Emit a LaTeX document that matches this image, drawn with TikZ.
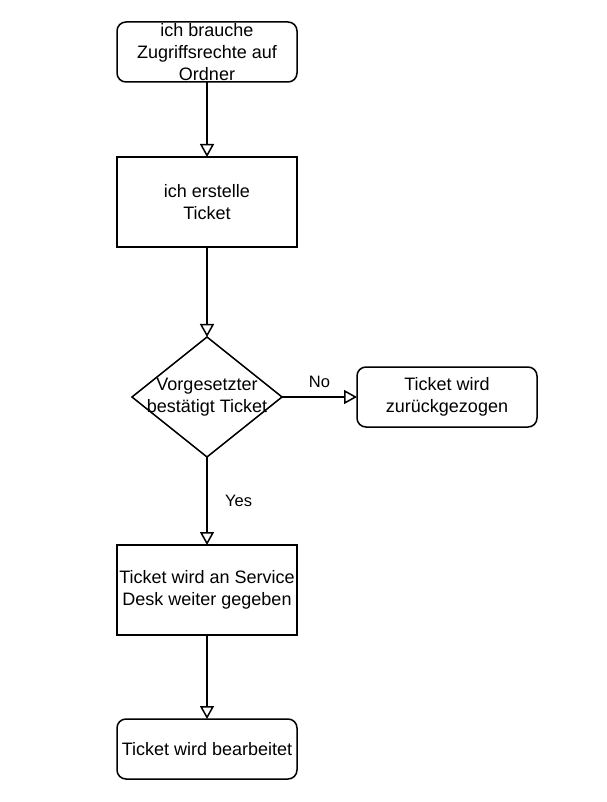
\documentclass[tikz,border=0pt]{standalone}
\usepackage{fontspec}
\setmainfont{Liberation Sans}
\usetikzlibrary{shapes.geometric, arrows.meta, positioning}
\tikzset{
    >={Triangle[open, length=13pt, width=14pt]}, % open arrow heads
    every node/.style={font=\fontsize{18}{21.6}\selectfont, align=center}, % text of all nodes
    block/.style={draw, line width=1.5pt, minimum width=180pt, minimum height=90pt, inner sep=0pt, outer sep=0pt}, % plain steps
    startstop/.style={block, rounded corners=9pt, minimum height=60pt}, % rounded boxes
    decision/.style={draw, diamond, line width=1.5pt, minimum width=150pt, minimum height=120pt, inner sep=0pt, outer sep=0pt},
    answer/.style={font=\fontsize{16.5}{19.8}\selectfont}, % edge labels
    flow/.style={->, line width=1.5pt},
}
\begin{document}
\begin{tikzpicture}
    \useasboundingbox (0,0) rectangle (606pt,-802pt);
    \node[startstop] (need) at (207pt,-52pt) {ich brauche\\Zugriffsrechte auf\\Ordner};
    \node[block, below=75pt of need] (create) {ich erstelle\\Ticket};
    \node[decision, below=90pt of create] (check) {};
    \node at (check) (checktext) {Vorgesetzter\\bestätigt Ticket};
    \node[startstop, right=75pt of check] (back) {Ticket wird\\zurückgezogen};
    \node[block, below=88pt of check] (desk) {Ticket wird an Service\\Desk weiter gegeben};
    \node[startstop, below=84pt of desk] (done) {Ticket wird bearbeitet};
    \draw[flow]
    (need) edge (create)
    (create) edge (check)
    (check) edge node[answer, above, xshift=0pt, yshift=5pt] (no) {No} (back)
    (check) edge node[answer, right, xshift=14pt, yshift=0pt] (yes) {Yes} (desk)
    (desk) edge (done)
    ;
\end{tikzpicture}
\end{document}
